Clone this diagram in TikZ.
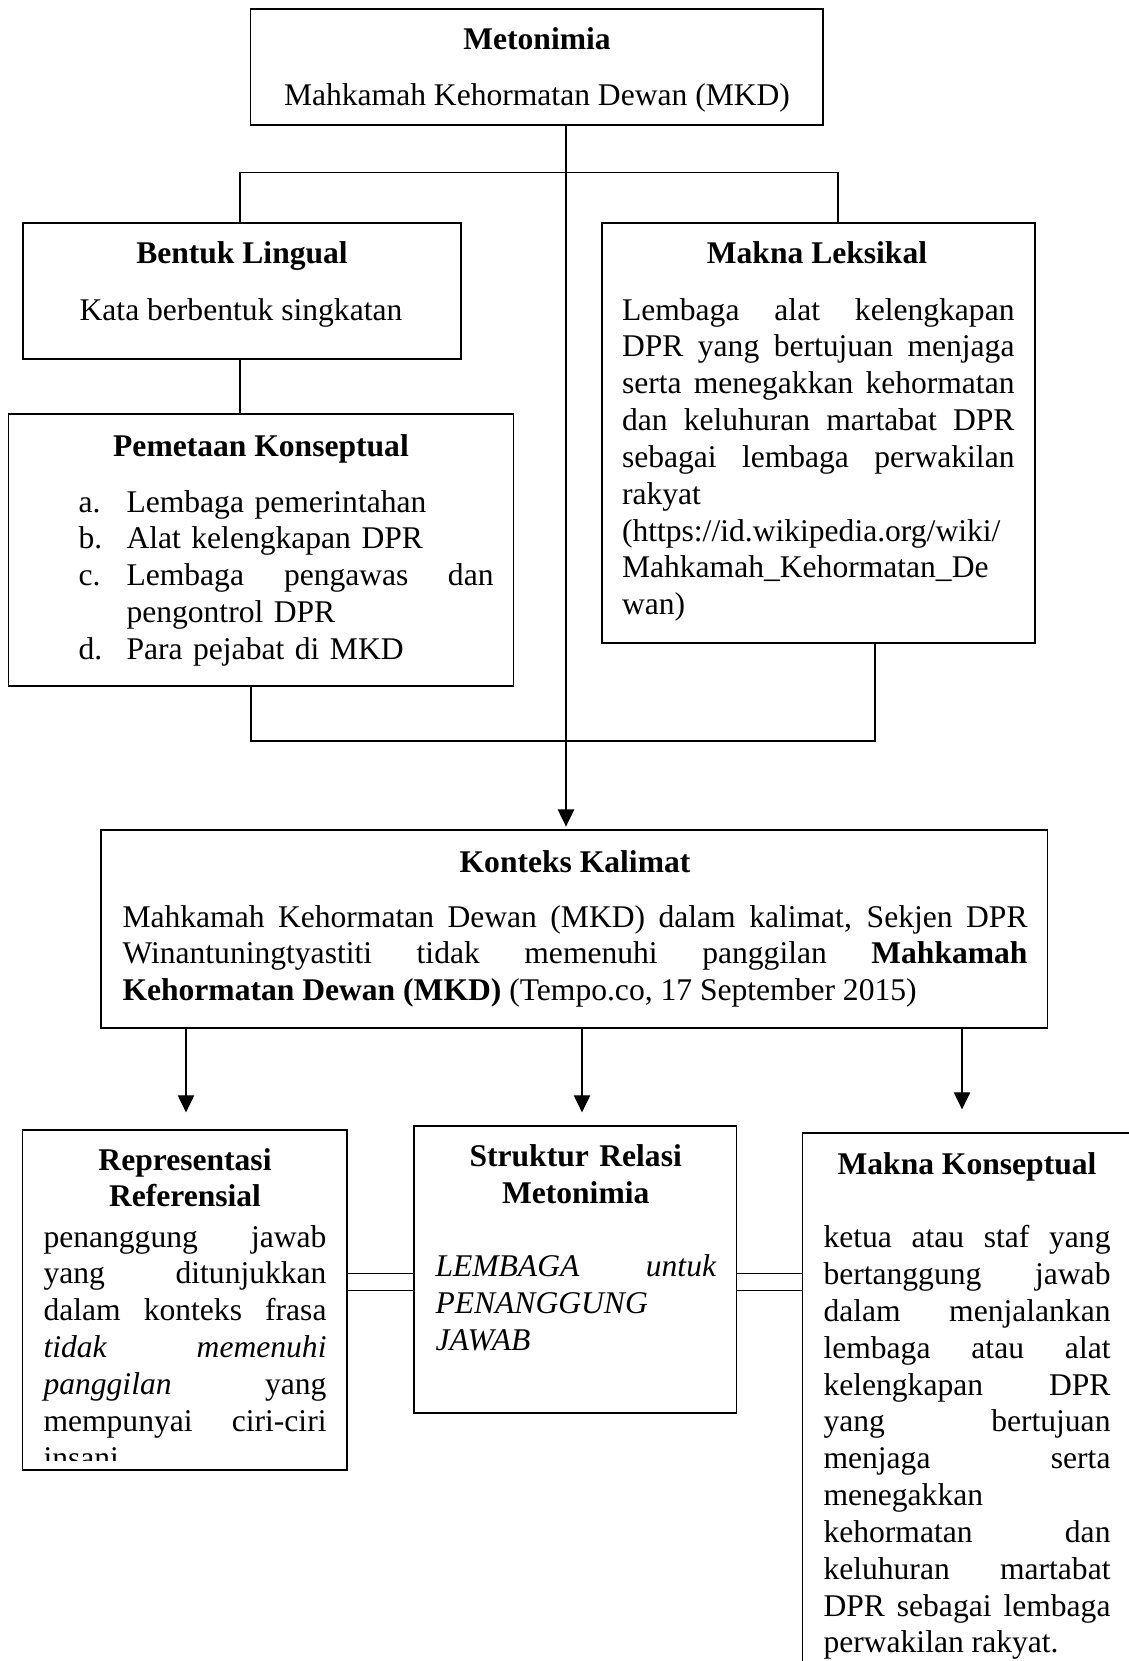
\documentclass[tikz,border=0pt]{standalone}
\usepackage{fontspec}
\setmainfont{Liberation Serif}
\usetikzlibrary{arrows.meta,fit,backgrounds}
\newdimen\px \px=0.38pt
\newcommand\diagfont{\fontsize{12}{14}\selectfont}
\tolerance=10000 \hbadness=10000 \hyphenpenalty=10000 \exhyphenpenalty=10000
\tikzset{
  box/.style={draw, line width=0.6pt, inner sep=0pt},
  head/.style={font=\diagfont\bfseries, inner sep=0pt, anchor=base},
  plain/.style={font=\diagfont, inner sep=0pt, anchor=base},
  para/.style={font=\diagfont, inner sep=0pt, anchor=base west, align=justify},
  link/.style={line width=0.5pt},
  arrow/.style={line width=0.5pt, shorten >=1pt, -{Triangle[length=6.5pt, width=6.2pt]}},
  twin/.style={double, line width=0.7pt, double distance=5.8pt},
}
\begin{document}
\begin{tikzpicture}[x=0.38pt, y=-0.38pt]
\useasboundingbox (0,0) rectangle (1129,1661);
\clip (0,0) rectangle (1129,1661);
% boxes
\node[box, fit={(250.6,9) (823.2,125)}] (meto) {};
\node[box, fit={(23,223) (461,359)}] (lingual) {};
\node[box, fit={(602,223) (1035,643)}] (leksikal) {};
\node[box, fit={(8.6,414) (513.5,686)}] (konsep) {};
\node[box, fit={(101,830) (1047.6,1028)}] (konteks) {};
\node[box, fit={(22.7,1130) (347,1470)}] (refer) {};
\node[box, fit={(414,1126) (736.7,1412.7)}] (struktur) {};
\node[box, fit={(802.7,1133) (1150,1700)}] (konseptual) {};
% titles
\node[head] (metoT) at (537,50) {Metonimia};
\node[plain] (metoB) at (537,105) {Mahkamah Kehormatan Dewan (MKD)};
\node[head] (lingualT) at (242,263) {Bentuk Lingual};
\node[plain] (lingualB) at (241,320) {Kata berbentuk singkatan};
\node[head] (leksikalT) at (817,263) {Makna Leksikal};
\node[head] (konsepT) at (261,456.7) {Pemetaan Konseptual};
\node[head] (kontekT) at (575,872) {Konteks Kalimat};
\node[head, text width=300\px, align=center] (referT) at (185,1170) {Representasi\\Referensial};
\node[head, text width=300\px, align=center] (strukturT) at (575.7,1166.7) {Struktur Relasi\\Metonimia};
\node[head] (konseptualT) at (967,1174) {Makna Konseptual};
% texts
\node[para, text width=392.5\px] (leksikalB) at (621.5,320) {Lembaga alat kelengkapan\linebreak DPR yang bertujuan menjaga\linebreak serta menegakkan kehormatan\linebreak dan keluhuran martabat DPR\linebreak sebagai lembaga perwakilan\linebreak rakyat\newline (https://id.wikipedia.org/wiki/\newline Mahkamah\_Kehormatan\_De\newline wan)};
\node[para, align=left, text width=415\px] (konsepB) at (78,512) {\makebox[48\px][l]{a.}Lembaga pemerintahan\\ \makebox[48\px][l]{b.}Alat kelengkapan DPR\\ \makebox[48\px][l]{c.}\hbox to 367\px{Lembaga\hspace{40\px}pengawas\hfill dan}\\ \hspace*{48\px}pengontrol DPR\\ \makebox[48\px][l]{d.}Para pejabat di MKD};
\node[para, text width=905\px] (kontekB) at (122,927) {Mahkamah Kehormatan Dewan (MKD) dalam kalimat, Sekjen DPR\linebreak Winantuningtyastiti tidak memenuhi panggilan \textbf{Mahkamah}\linebreak \textbf{Kehormatan Dewan (MKD)} (Tempo.co, 17 September 2015)};
\coordinate (cutR) at (347,1460);
\begin{scope}
\clip (refer.north west) rectangle (cutR);
\node[para, text width=283\px] (referB) at (43,1247) {penanggung jawab\linebreak yang ditunjukkan\linebreak dalam konteks frasa\linebreak \textit{tidak memenuhi}\linebreak \textit{panggilan} yang\linebreak mempunyai ciri-ciri\linebreak insani};
\end{scope}
\node[para, text width=281\px] (strukturB) at (435,1276.7) {\textit{LEMBAGA untuk}\linebreak \textit{PENANGGUNG}\newline \textit{JAWAB}};
\node[para, text width=287\px] (konseptualB) at (823,1247.7) {ketua atau staf yang\linebreak bertanggung jawab\linebreak dalam menjalankan\linebreak lembaga atau alat\linebreak kelengkapan DPR\linebreak yang bertujuan\linebreak menjaga serta\linebreak menegakkan\newline kehormatan dan\linebreak keluhuran martabat\linebreak DPR sebagai lembaga\linebreak perwakilan rakyat.};
% connectors
\coordinate (split) at (566,172.7);
\coordinate (splitL) at (240,172.7);
\coordinate (splitR) at (838,172.7);
\coordinate (joinL) at (251,741);
\coordinate (join) at (566,741);
\coordinate (joinR) at (875,741);
\draw[link] (meto.south -| split) -- (join);
\draw[link] (splitL |- lingual.north) -- (splitL) -- (splitR) -- (splitR |- leksikal.north);
\draw[link] (lingual.south -| splitL) -- (splitL |- konsep.north);
\draw[link] (joinL |- konsep.south) -- (joinL) -- (joinR) -- (joinR |- leksikal.south);
\draw[arrow] (join) -- (join |- konteks.north);
\coordinate (tipL) at (186,1115);
\coordinate (tipM) at (582,1115);
\coordinate (tipR) at (962,1112);
\draw[arrow] (tipL |- konteks.south) -- (tipL);
\draw[arrow] (tipM |- konteks.south) -- (tipM);
\draw[arrow] (tipR |- konteks.south) -- (tipR);
\coordinate (twinY) at (0,1282);
\begin{scope}[on background layer]
\draw[twin] (refer.east |- twinY) -- (struktur.west |- twinY);
\draw[twin] (struktur.east |- twinY) -- (konseptual.west |- twinY);
\end{scope}
\end{tikzpicture}
\end{document}
